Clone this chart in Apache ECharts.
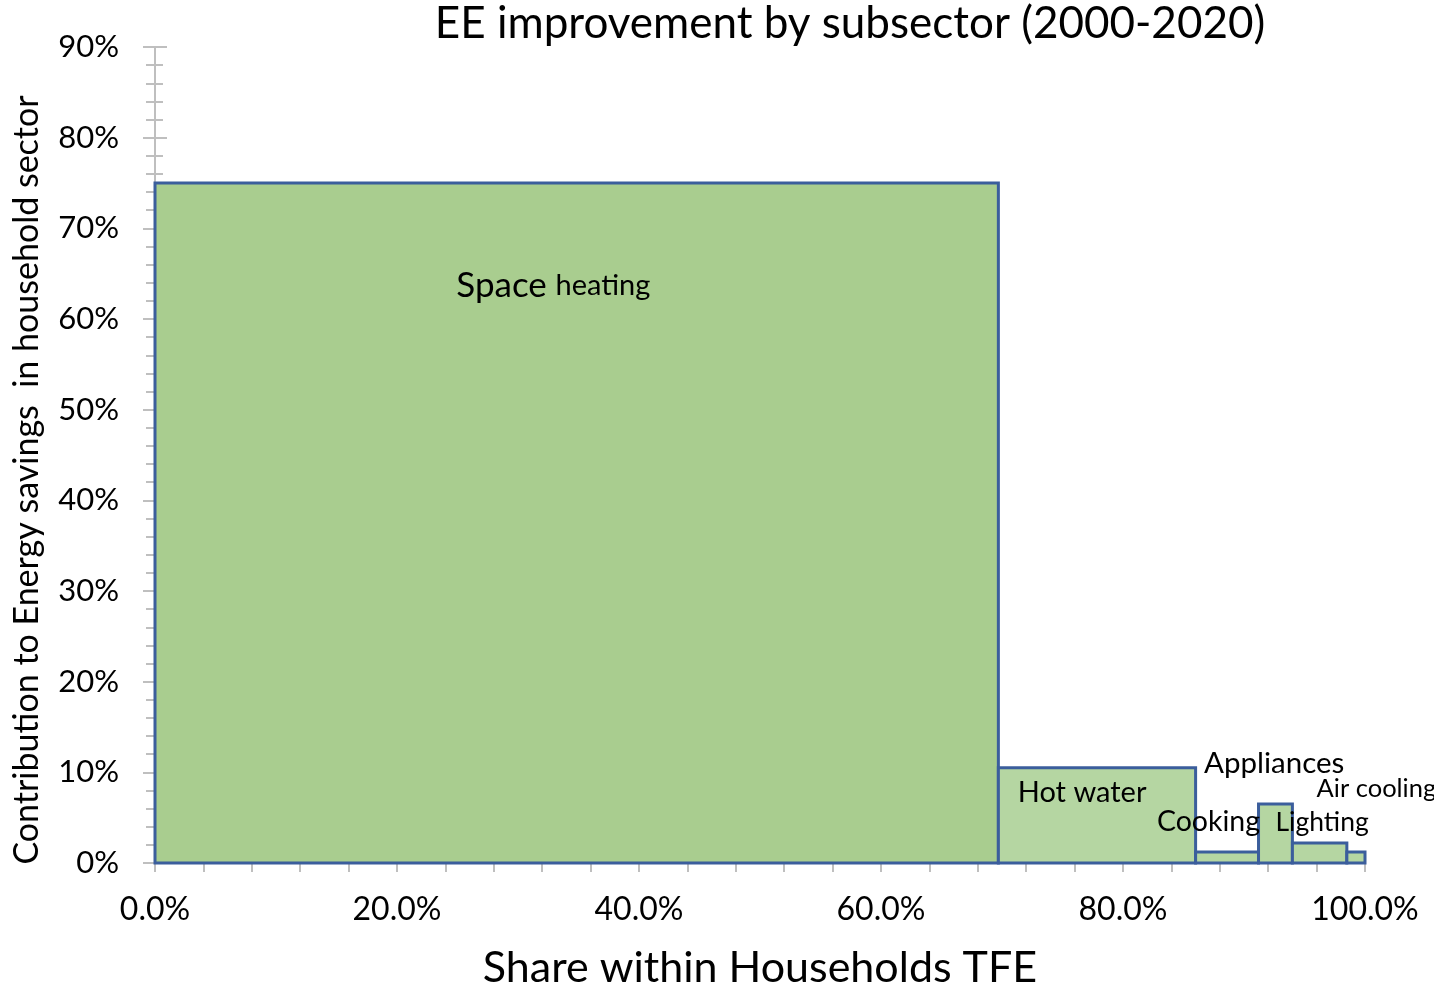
<!DOCTYPE html>
<html>
<head>
<meta charset="utf-8">
<script src="https://cdn.jsdelivr.net/npm/echarts@6/dist/echarts.min.js"></script>
<style>
  html, body { margin: 0; padding: 0; background: #fff; }
  #chart { width: 1434px; height: 1001px; }
</style>
</head>
<body>
<div id="chart"></div>
<script>
// subsectors, share of household TFE (%) and contribution to savings (%)
const subsectors = ['Space heating', 'Hot water', 'Cooking', 'Appliances', 'Lighting', 'Air cooling']
const shareTFE = [69.7, 16.3, 5.2, 2.8, 4.5, 1.5]
const savingsShare = [75.0, 10.5, 1.2, 6.5, 2.2, 1.2]
const xTickLabels = ['0.0%', '20.0%', '40.0%', '60.0%', '80.0%', '100.0%']

const fontFamily = 'Lato, "Open Sans", sans-serif'
const borderColor = '#3B5E9C'
const tickColor = '#BFBFBF'

// build [x0, x1, height, name] from the widths
let acc = 0
const rects = shareTFE.map((w, i) => {
  const item = [acc, acc + w, savingsShare[i], subsectors[i]]
  acc += w
  return item
})

// label anchors (data coords) and font sizes
const labelAt = [
  { x: 24.9, y: 63.7, size: 34 },
  { x: 71.3, y: 7.8, size: 29 },
  { x: 82.8, y: 4.5, size: 28.5 },
  { x: 86.7, y: 11.0, size: 29.5 },
  { x: 92.6, y: 4.5, size: 26.5 },
  { x: 96.0, y: 8.2, size: 25.5 }
]

const chart = echarts.init(document.getElementById('chart'))

const grid = { left: 155, right: 69, top: 47, bottom: 138 }

const option = {
  animation: false,
  title: {
    text: 'EE improvement by subsector (2000-2020)',
    left: 845,
    top: -3,
    textAlign: 'center',
    textStyle: { fontFamily, fontSize: 44, fontWeight: 'normal', color: '#000' }
  },
  grid: grid,
  xAxis: [
    {
      type: 'value',
      min: 0,
      max: 100,
      interval: 4,
      name: 'Share within Households TFE',
      nameLocation: 'middle',
      nameGap: 84,
      nameTextStyle: { fontFamily, fontSize: 43, color: '#000' },
      axisLine: { show: true, lineStyle: { color: tickColor, width: 2 } },
      axisTick: { show: true, length: 9, lineStyle: { color: tickColor, width: 2 } },
      axisLabel: {
        fontFamily,
        fontSize: 32,
        color: '#000',
        margin: 31,
        interval: 0,
        formatter: v => (Math.round(v) % 20 === 0 ? xTickLabels[Math.round(v) / 20] : '')
      },
      splitLine: { show: false }
    },
    {
      type: 'value',
      min: 0,
      max: 100,
      interval: 4,
      position: 'bottom',
      axisLine: { show: false },
      axisTick: { show: true, inside: true, length: 10, lineStyle: { color: tickColor, width: 2 } },
      axisLabel: { show: false },
      splitLine: { show: false }
    }
  ],
  yAxis: [
    {
      type: 'value',
      min: 0,
      max: 90,
      interval: 10,
      axisLine: { show: true, lineStyle: { color: tickColor, width: 2 } },
      axisTick: { show: true, length: 12, lineStyle: { color: tickColor, width: 2 } },
      minorTick: { show: true, splitNumber: 5, length: 9, lineStyle: { color: tickColor, width: 2 } },
      axisLabel: { fontFamily, fontSize: 31, color: '#000', margin: 36, formatter: '{value}%' },
      splitLine: { show: false }
    },
    {
      type: 'value',
      min: 0,
      max: 90,
      interval: 10,
      position: 'left',
      axisLine: { show: false },
      axisTick: { show: true, inside: true, length: 12, lineStyle: { color: tickColor, width: 2 } },
      minorTick: { show: true, splitNumber: 5, length: 8, lineStyle: { color: tickColor, width: 2 } },
      axisLabel: { show: false },
      splitLine: { show: false }
    }
  ],
  graphic: [
    {
      type: 'text',
      x: 27,
      y: 480,
      rotation: Math.PI / 2,
      style: {
        text: 'Contribution to Energy savings  in household sector',
        font: '34px ' + fontFamily,
        fill: '#000',
        textAlign: 'center',
        textVerticalAlign: 'middle'
      }
    }
  ],
  series: [
    {
      type: 'custom',
      xAxisIndex: 0,
      yAxisIndex: 0,
      data: rects,
      renderItem: (params, api) => {
        const p0 = api.coord([api.value(0), api.value(2)])
        const p1 = api.coord([api.value(1), 0])
        return {
          type: 'rect',
          shape: { x: p0[0], y: p0[1], width: p1[0] - p0[0], height: p1[1] - p0[1] },
          style: {
            fill: params.dataIndex === 0 ? '#A9CD8F' : '#B5D6A2',
            stroke: borderColor,
            lineWidth: 3
          }
        }
      },
      z: 3
    },
    {
      type: 'custom',
      xAxisIndex: 0,
      yAxisIndex: 0,
      data: labelAt.map((l, i) => [l.x, l.y, subsectors[i]]),
      renderItem: (params, api) => {
        const p = api.coord([api.value(0), api.value(1)])
        const i = params.dataIndex
        const size = labelAt[i].size
        const text = i === 0 ? '{a|Space} {b|heating}' : subsectors[i]
        return {
          type: 'text',
          x: p[0],
          y: p[1],
          style: {
            text: text,
            font: size + 'px ' + fontFamily,
            fill: '#000',
            textAlign: 'left',
            textVerticalAlign: 'middle',
            rich: {
              a: { fontFamily, fontSize: 35, fill: '#000' },
              b: { fontFamily, fontSize: 29, fill: '#000' }
            }
          }
        }
      },
      z: 5
    }
  ]
}

chart.setOption(option)
</script>
</body>
</html>
